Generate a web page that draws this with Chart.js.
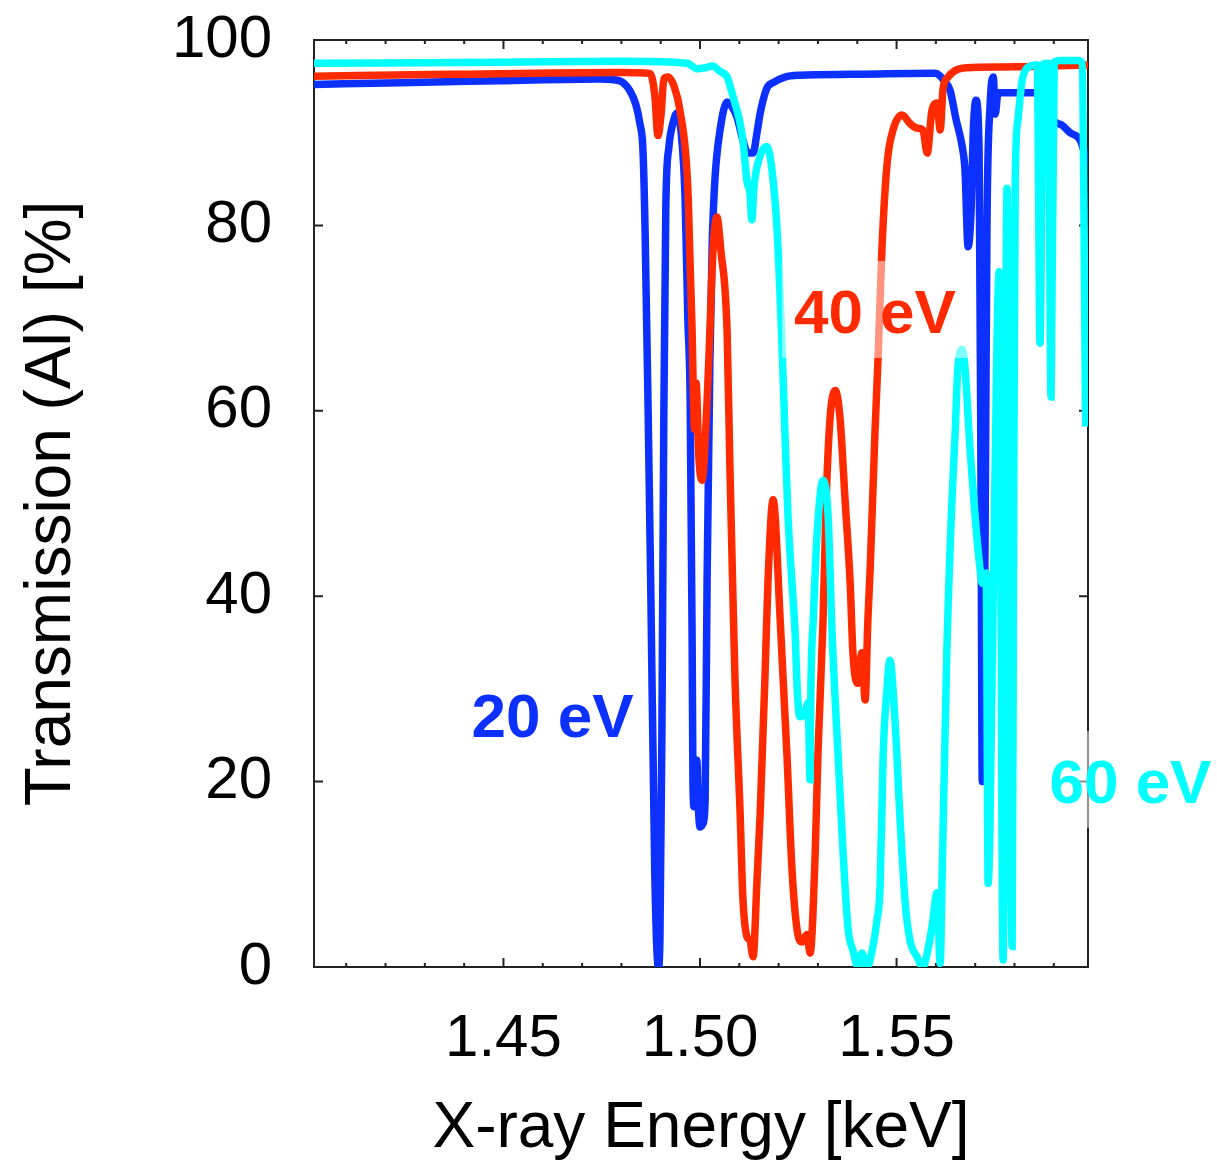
<!DOCTYPE html>
<html lang="en">
<head>
<meta charset="UTF-8">
<title>Transmission (Al)</title>
<style>
  body { margin: 0; background: #fff; }
  #chart { display: block; }
</style>
</head>
<body>
<canvas id="chart" width="1217" height="1168"></canvas>
<script src="https://cdn.jsdelivr.net/npm/chart.js@4.4.1/dist/chart.umd.min.js"></script>
<script>
// x-ray energy [keV] and transmission [%] for each temperature
const e20 = [1.4018, 1.4237, 1.4491, 1.4746, 1.4796, 1.4822, 1.4837, 1.4847, 1.4855, 1.4860,
  1.4868, 1.4875, 1.4885, 1.4894, 1.4898, 1.4903, 1.4908, 1.4913, 1.4921, 1.4931,
  1.4941, 1.4952, 1.4962, 1.4969, 1.4975, 1.4980, 1.4982, 1.4985, 1.4990, 1.4992,
  1.4995, 1.5000, 1.5008, 1.5013, 1.5018, 1.5025, 1.5031, 1.5038, 1.5051, 1.5069,
  1.5081, 1.5094, 1.5109, 1.5122, 1.5135, 1.5145, 1.5153, 1.5170, 1.5186, 1.5216,
  1.5254, 1.5382, 1.5598, 1.5623, 1.5636, 1.5651, 1.5667, 1.5674, 1.5682, 1.5690,
  1.5695, 1.5702, 1.5710, 1.5715, 1.5718, 1.5725, 1.5730, 1.5738, 1.5746, 1.5751,
  1.5758, 1.5878, 1.5896, 1.5921, 1.5941, 1.5967, 1.5987];
const t20 = [95.2, 95.4, 95.6, 95.8, 95.6, 94.5, 93, 91, 88, 80,
  60, 40, 10, 0, 3, 25, 60, 82, 88.5, 91,
  92.1, 90, 83, 70, 61, 35, 20, 17.3, 20, 22.3,
  18, 15.1, 15.5, 18, 41.7, 65, 78, 85, 90.3, 93.3,
  92.8, 91.7, 89.2, 87.8, 87.8, 90, 92.1, 94.8, 95.4, 96,
  96.2, 96.3, 96.4, 95.5, 94.6, 91.5, 88.5, 86, 77.7, 82,
  90, 93.5, 88, 50, 20, 45, 80, 93, 96, 92,
  94.3, 94.3, 91.5, 90.8, 90, 89.2, 86.5];

const e40 = [1.4018, 1.4364, 1.4796, 1.4873, 1.4885, 1.4893, 1.4901, 1.4908, 1.4919, 1.4934,
  1.4949, 1.4969, 1.4975, 1.4980, 1.4982, 1.4986, 1.4990, 1.4997, 1.5005, 1.5018,
  1.5025, 1.5033, 1.5043, 1.5053, 1.5069, 1.5076, 1.5084, 1.5089, 1.5102, 1.5109,
  1.5120, 1.5127, 1.5135, 1.5145, 1.5153, 1.5165, 1.5173, 1.5186, 1.5204, 1.5221,
  1.5234, 1.5247, 1.5260, 1.5272, 1.5280, 1.5293, 1.5300, 1.5313, 1.5321, 1.5331,
  1.5344, 1.5356, 1.5369, 1.5382, 1.5389, 1.5400, 1.5412, 1.5420, 1.5427, 1.5433,
  1.5445, 1.5453, 1.5463, 1.5476, 1.5491, 1.5514, 1.5534, 1.5552, 1.5567, 1.5578,
  1.5590, 1.5603, 1.5611, 1.5618, 1.5631, 1.5679, 1.5763, 1.5987];
const t40 = [96.1, 96.3, 96.5, 96.4, 94, 89.7, 92, 95.8, 96, 95,
  92.4, 84, 75.5, 68.4, 64, 58, 63, 55, 52.5, 61,
  68.4, 77.3, 80.9, 77.3, 68.4, 54, 39.6, 31, 16.6, 7.5,
  3.2, 2.9, 1.1, 9.4, 16.6, 31, 41.7, 50.4, 37.4, 23,
  10.5, 4, 2.7, 3.5, 1.5, 12.3, 23, 37.4, 50.4, 59.3,
  62.2, 59.3, 50.4, 41.4, 33.9, 30.6, 33.9, 28.8, 37.4, 43.1,
  57.6, 65.8, 77.7, 86.7, 90.3, 91.9, 91, 90.5, 90.3, 87.8,
  92.4, 93.2, 90.3, 94.6, 96, 97, 97.1, 97.3];

const e60 = [1.4018, 1.4491, 1.4796, 1.4967, 1.4992, 1.5013, 1.5031, 1.5051, 1.5069, 1.5084,
  1.5102, 1.5109, 1.5120, 1.5127, 1.5132, 1.5137, 1.5153, 1.5170, 1.5183, 1.5196,
  1.5209, 1.5216, 1.5224, 1.5234, 1.5242, 1.5247, 1.5254, 1.5267, 1.5275, 1.5280,
  1.5282, 1.5288, 1.5298, 1.5313, 1.5326, 1.5336, 1.5351, 1.5364, 1.5377, 1.5389,
  1.5402, 1.5412, 1.5425, 1.5438, 1.5450, 1.5458, 1.5466, 1.5476, 1.5483, 1.5496,
  1.5509, 1.5522, 1.5534, 1.5552, 1.5567, 1.5578, 1.5590, 1.5603, 1.5611, 1.5616,
  1.5628, 1.5641, 1.5649, 1.5656, 1.5667, 1.5674, 1.5687, 1.5700, 1.5712, 1.5718,
  1.5728, 1.5733, 1.5746, 1.5761, 1.5771, 1.5781, 1.5794, 1.5798, 1.5802, 1.5809,
  1.5819, 1.5832, 1.5858, 1.5865, 1.5873, 1.5886, 1.5893, 1.5901, 1.5916, 1.5962,
  1.5972, 1.5981];
const t60 = [97.5, 97.6, 97.7, 97.5, 96.9, 97.0, 97.2, 96.6, 96, 93.9,
  91, 89.2, 84.6, 83.5, 80.6, 84, 87.5, 88.5, 86, 79.5,
  66.6, 57.6, 48.5, 41.4, 36, 30.2, 27, 27.4, 28.5, 20.2,
  30, 37.4, 46.8, 52.5, 48.5, 36, 23, 12.3, 4, 1.8,
  0, 1.5, 0, 1.8, 5, 8.6, 23, 30.2, 33.1, 26.6,
  15.9, 6.9, 2.9, 1.1, 0, 1.5, 4.3, 8, 0.4, 10,
  34.2, 50.4, 57.6, 64.7, 66.6, 64.7, 55.8, 48.5, 43.1, 41.4,
  42.5, 9, 40, 75, 0.75, 84, 2.2, 50, 85, 91.5,
  95.5, 97, 97.3, 67.3, 97.4, 97.5, 61.5, 97.6, 97.8, 97.8,
  97.5, 58.3];

// axes
const xTickValues = [1.45, 1.50, 1.55];
const xTickLabels = ['1.45', '1.50', '1.55'];
const xMinorTicks = [1.41, 1.42, 1.43, 1.44, 1.45, 1.46, 1.47, 1.48, 1.49, 1.50,
  1.51, 1.52, 1.53, 1.54, 1.55, 1.56, 1.57, 1.58, 1.59];
const yTickValues = [0, 20, 40, 60, 80, 100];

// curve labels
const noteText = ['20 eV', '40 eV', '60 eV'];
const noteX = [1.4625, 1.5445, 1.6095];
const noteY = [24.8, 68.4, 17.7];

const BLUE = '#0c30ff';
const RED = '#ff2a00';
const CYAN = '#00ffff';
const noteColor = [BLUE, RED, CYAN];
const FONT = "'Liberation Sans', Arial, Helvetica, sans-serif";

function pts(xs, ys) {
  return xs.map(function (x, i) { return { x: x, y: ys[i] }; });
}

// no extra room for half tick labels, the layout padding handles it
function noScalePadding(s) {
  s.paddingTop = 0;
  s.paddingBottom = 0;
  s.paddingLeft = 0;
  s.paddingRight = 0;
}

const frame = {
  id: 'frame',
  beforeDatasetsDraw(chart) {
    const ctx = chart.ctx, a = chart.chartArea;
    const xs = chart.scales.x, ys = chart.scales.y;
    ctx.save();
    ctx.strokeStyle = '#222';
    ctx.lineWidth = 2;
    ctx.strokeRect(a.left, a.top, a.right - a.left, a.bottom - a.top);
    ctx.beginPath();
    xMinorTicks.forEach(function (v) {
      const px = xs.getPixelForValue(v);
      const major = xTickValues.some(function (m) { return Math.abs(m - v) < 1e-6; });
      const len = major ? 9 : 4;
      ctx.moveTo(px, a.bottom); ctx.lineTo(px, a.bottom - len);
      ctx.moveTo(px, a.top); ctx.lineTo(px, a.top + len);
    });
    yTickValues.forEach(function (v) {
      const py = ys.getPixelForValue(v);
      ctx.moveTo(a.left, py); ctx.lineTo(a.left + 9, py);
      ctx.moveTo(a.right, py); ctx.lineTo(a.right - 9, py);
    });
    ctx.stroke();
    ctx.restore();
  }
};

const notes = {
  id: 'notes',
  afterDatasetsDraw(chart) {
    const ctx = chart.ctx;
    const xs = chart.scales.x, ys = chart.scales.y;
    ctx.save();
    ctx.font = 'bold 62px ' + FONT;
    ctx.textAlign = 'center';
    ctx.textBaseline = 'alphabetic';
    noteText.forEach(function (t, i) {
      const cx = xs.getPixelForValue(noteX[i]);
      const by = ys.getPixelForValue(noteY[i]);
      const w = ctx.measureText(t).width;
      ctx.fillStyle = 'rgba(255,255,255,0.5)';
      ctx.fillRect(cx - w / 2 - 12, by - 72, w + 24, 97);
      ctx.fillStyle = noteColor[i];
      ctx.fillText(t, cx, by);
    });
    ctx.restore();
  }
};

const line = function (xs, ys, color, order) {
  return {
    data: pts(xs, ys),
    borderColor: color,
    borderWidth: 7.5,
    pointRadius: 0,
    fill: false,
    cubicInterpolationMode: 'monotone',
    order: order
  };
};

new Chart(document.getElementById('chart'), {
  type: 'line',
  data: {
    datasets: [
      line(e20, t20, BLUE, 3),
      line(e40, t40, RED, 2),
      line(e60, t60, CYAN, 1)
    ]
  },
  options: {
    responsive: false,
    animation: false,
    layout: { padding: { top: 40, right: 129, left: 0, bottom: 0 } },
    plugins: { legend: { display: false }, tooltip: { enabled: false } },
    scales: {
      x: {
        type: 'linear',
        min: 1.4018,
        max: 1.5987,
        grid: { display: false, drawTicks: false },
        border: { display: false },
        afterBuildTicks: function (s) { s.ticks = xTickValues.map(function (v) { return { value: v }; }); },
        afterFit: function (s) { s.height = 201; noScalePadding(s); },
        ticks: {
          autoSkip: false,
          maxRotation: 0,
          padding: 36,
          color: '#000',
          font: { family: FONT, size: 60 },
          callback: function (v, i) { return xTickLabels[i]; }
        },
        title: {
          display: true,
          text: 'X-ray Energy [keV]',
          color: '#000',
          font: { family: FONT, size: 64 },
          padding: { top: 0, bottom: 0 }
        }
      },
      y: {
        min: 0,
        max: 100,
        grid: { display: false, drawTicks: false },
        border: { display: false },
        afterBuildTicks: function (s) { s.ticks = yTickValues.map(function (v) { return { value: v }; }); },
        afterFit: function (s) { s.width = 314; noScalePadding(s); },
        ticks: {
          padding: 42,
          color: '#000',
          font: { family: FONT, size: 60 },
          callback: function (v) { return String(v); }
        },
        title: {
          display: true,
          text: 'Transmission (Al) [%]',
          color: '#000',
          font: { family: FONT, size: 64 },
          padding: { top: 14, bottom: 0 }
        }
      }
    }
  },
  plugins: [frame, notes]
});
</script>
</body>
</html>
